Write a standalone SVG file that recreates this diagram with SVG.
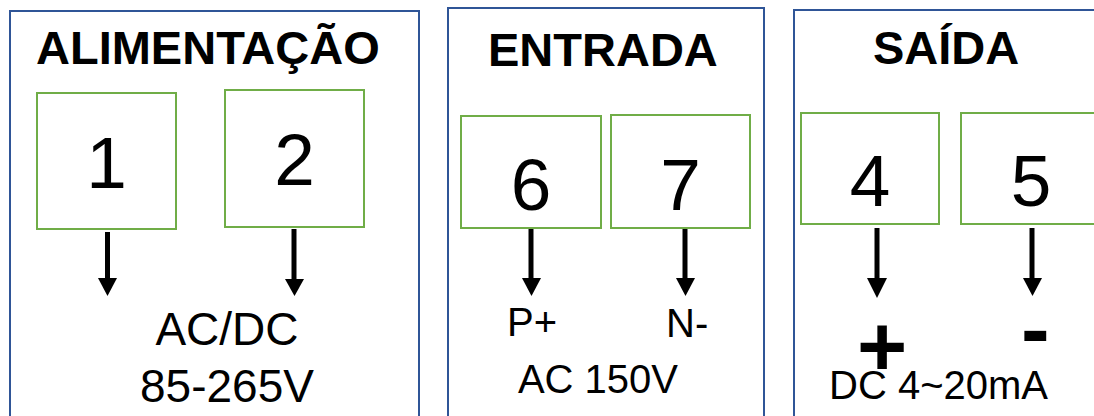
<svg xmlns="http://www.w3.org/2000/svg" width="1094" height="416" viewBox="0 0 1094 416">
<style>
.panel{fill:none;stroke:#2f5597;stroke-width:2}
.term{fill:#fff;stroke:#70ad47;stroke-width:2}
.title{font-family:"Liberation Sans",Arial,sans-serif;font-weight:bold;font-size:47px;fill:#000}
.num{font-family:"Liberation Sans",Arial,sans-serif;font-size:73px;fill:#000;text-anchor:middle}
.lbl{font-family:"Liberation Sans",Arial,sans-serif;font-size:40px;fill:#000}
.lbl46{font-family:"Liberation Sans",Arial,sans-serif;font-size:46px;fill:#000;text-anchor:middle}
.sign{font-family:"Liberation Sans",Arial,sans-serif;font-weight:bold;font-size:86px;fill:#000}
.wire{stroke:#000;stroke-width:5;fill:none}
.head{fill:#000}
</style>
<rect width="1094" height="416" fill="#fff"/>
<g id="panel-alimentacao">
<rect class="panel" x="10" y="11" width="409" height="420"/>
<text class="title" x="36" y="64">ALIMENTAÇÃO</text>
<text class="lbl46" x="227" y="345">AC/DC</text>
<text class="lbl46" x="227" y="402">85-265V</text>
</g>
<g id="panel-entrada">
<rect class="panel" x="448" y="8" width="316" height="420"/>
<text class="title" x="488" y="66">ENTRADA</text>
<text class="lbl" x="507" y="336">P+</text>
<text class="lbl" x="666" y="337">N-</text>
<text class="lbl" x="598" y="393" text-anchor="middle">AC 150V</text>
</g>
<g id="panel-saida">
<rect class="panel" x="794" y="10" width="320" height="420"/>
<text class="title" x="873" y="64">SAÍDA</text>
<text class="sign" x="857" y="376">+</text>
<text class="sign" x="1021" y="358">-</text>
<text class="lbl" x="829" y="399">DC 4~20mA</text>
</g>
<g id="t1"><rect class="term" x="37" y="93" width="139" height="136"/><text class="num" x="106.5" y="188">1</text></g>
<g id="t2"><rect class="term" x="225" y="90" width="139" height="137"/><text class="num" x="294.5" y="185">2</text></g>
<g id="t6"><rect class="term" x="461" y="116" width="140" height="112"/><text class="num" x="531" y="210">6</text></g>
<g id="t7"><rect class="term" x="611" y="115" width="139" height="113"/><text class="num" x="680.5" y="210">7</text></g>
<g id="t4"><rect class="term" x="801" y="113" width="138" height="111"/><text class="num" x="870" y="206">4</text></g>
<g id="t5"><rect class="term" x="961" y="113" width="140" height="111"/><text class="num" x="1031" y="206">5</text></g>
<g id="connectors">
<line class="wire" x1="107.5" y1="232" x2="107.5" y2="280"/><polygon class="head" points="98,278 117,278 107.5,296"/>
<line class="wire" x1="294" y1="229" x2="294" y2="281"/><polygon class="head" points="285,279 304,279 294.5,296"/>
<line class="wire" x1="531" y1="229" x2="531" y2="280"/><polygon class="head" points="522,278 541,278 531.5,296"/>
<line class="wire" x1="685" y1="229" x2="685" y2="280"/><polygon class="head" points="676,278 695,278 685.5,296"/>
<line class="wire" x1="877" y1="228" x2="877" y2="280"/><polygon class="head" points="867,278 887,278 877,298"/>
<line class="wire" x1="1032" y1="228" x2="1032" y2="280"/><polygon class="head" points="1023,278 1042,278 1032.5,296"/>
</g>
</svg>
